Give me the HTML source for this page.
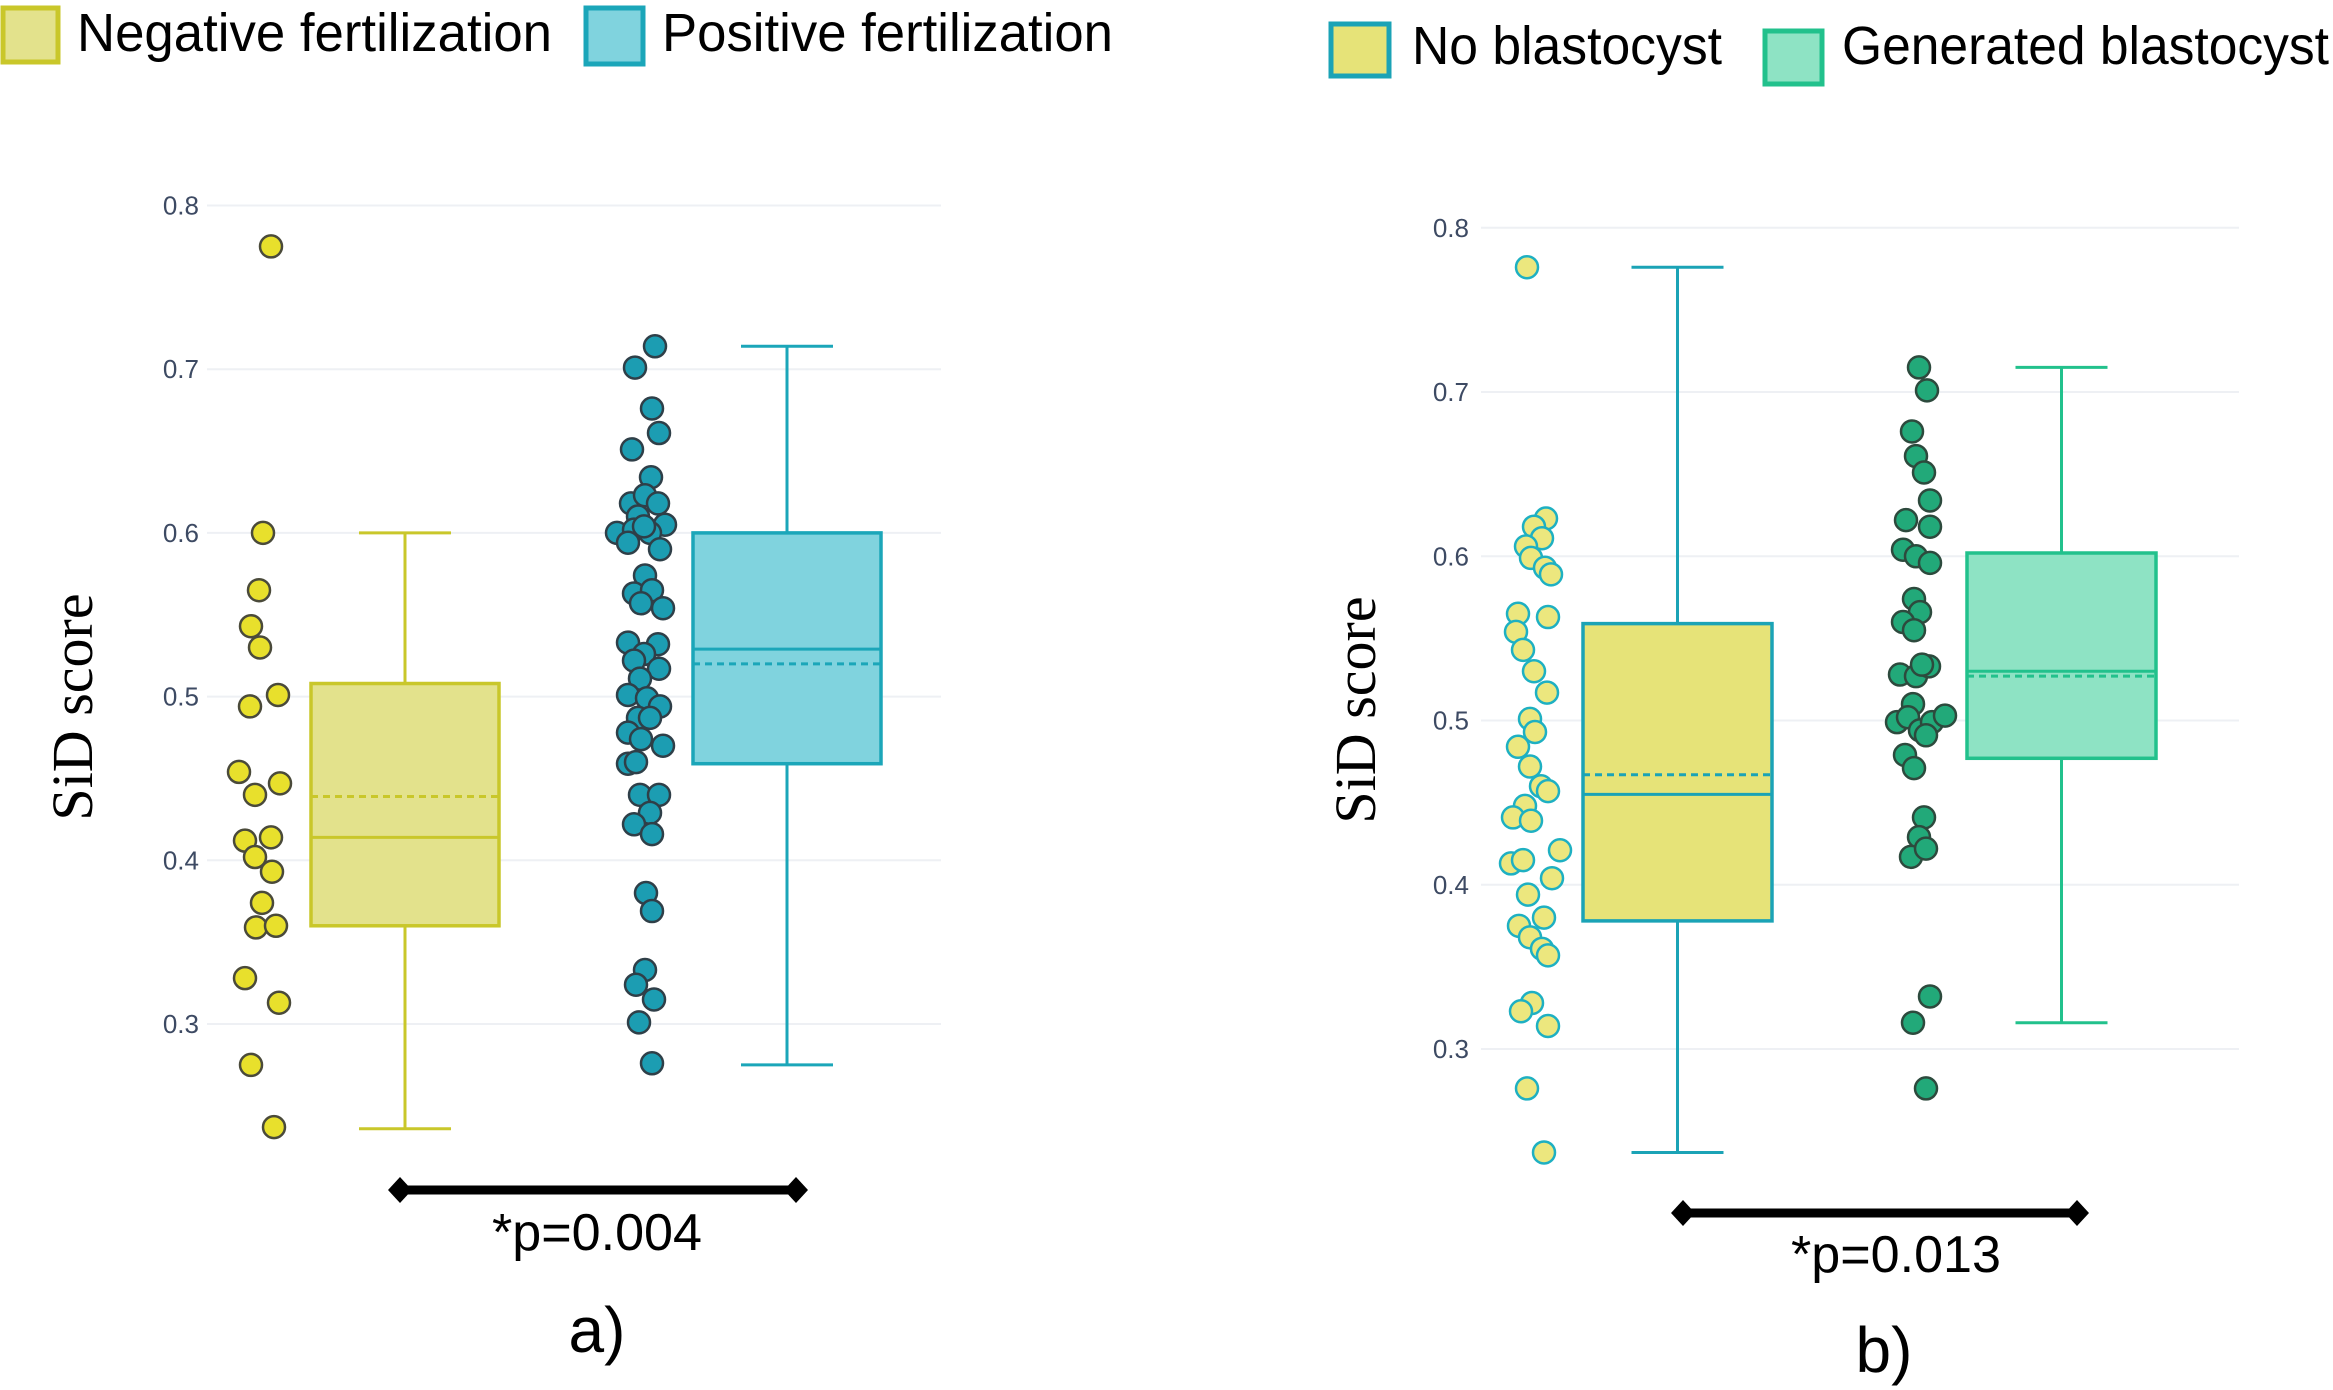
<!DOCTYPE html>
<html><head><meta charset="utf-8"><style>
html,body{margin:0;padding:0;background:#fff;}
svg{display:block;}
</style></head><body>
<svg id="fig" width="2333" height="1390" viewBox="0 0 2333 1390" xmlns="http://www.w3.org/2000/svg" font-family="'Liberation Sans', sans-serif">
  <g>
    <rect x="3" y="8" width="55" height="54" fill="#e3e28c" stroke="#c9c72a" stroke-width="5"/>
    <text x="77" y="51" font-size="54" textLength="475" lengthAdjust="spacingAndGlyphs" fill="#000">Negative fertilization</text>
    <rect x="586" y="8" width="57" height="56" fill="#80d3de" stroke="#1ba6b9" stroke-width="5"/>
    <text x="662" y="51" font-size="54" textLength="451" lengthAdjust="spacingAndGlyphs" fill="#000">Positive fertilization</text>
  </g>
  <g>
    <rect x="1331" y="24" width="58" height="52" fill="#e6e378" stroke="#1ba3b6" stroke-width="5"/>
    <text x="1412" y="64" font-size="54" textLength="310" lengthAdjust="spacingAndGlyphs" fill="#000">No blastocyst</text>
    <rect x="1765" y="31" width="57" height="53" fill="#8ee3c4" stroke="#22c18c" stroke-width="5"/>
    <text x="1842" y="64" font-size="54" textLength="487" lengthAdjust="spacingAndGlyphs" fill="#000">Generated blastocyst</text>
  </g>
  <g id="panelA"></g>
  <g id="panelB"></g>
</svg>
<script>
// ---------- data ----------
const yTicks = [0.3, 0.4, 0.5, 0.6, 0.7, 0.8];
const tickLabels = ["0.3", "0.4", "0.5", "0.6", "0.7", "0.8"];

// Panel A: negative vs positive fertilization
const negValues = [0.775,0.600,0.565,0.543,0.530,0.501,0.494,0.454,0.447,0.440,0.412,0.414,0.402,0.393,0.374,0.359,0.360,0.328,0.313,0.275,0.237];
const negJitter = [10,2,-2,-10,-1,17,-11,-22,19,-6,-16,10,-6,11,1,-5,15,-16,18,-10,13];
const negBox = [0.236, 0.360, 0.414, 0.508, 0.600]; // min q1 median q3 max
const negMean = 0.439;

const posValues = [0.714,0.701,0.676,0.661,0.651,0.634,0.618,0.623,0.618,0.610,0.605,0.600,0.602,0.600,0.594,0.590,0.604,0.574,0.563,0.565,0.554,0.557,0.533,0.532,0.526,0.522,0.517,0.511,0.501,0.499,0.494,0.487,0.487,0.478,0.474,0.470,0.459,0.460,0.440,0.440,0.429,0.422,0.416,0.380,0.369,0.333,0.324,0.315,0.301,0.276];
const posJitter = [11,-9,8,15,-12,7,-13,1,14,-6,21,-27,-10,6,-16,16,0,1,-10,8,19,-3,-16,14,0,-10,15,-4,-16,3,16,-6,6,-16,-3,19,-16,-8,-4,15,6,-10,8,2,8,1,-8,10,-5,8];
const posBox = [0.275, 0.459, 0.529, 0.600, 0.714];
const posMean = 0.520;

// Panel B: no blastocyst vs generated blastocyst
const noBlastValues = [0.776,0.623,0.618,0.611,0.606,0.599,0.593,0.589,0.565,0.563,0.554,0.543,0.530,0.517,0.501,0.493,0.484,0.472,0.460,0.457,0.448,0.441,0.439,0.421,0.413,0.415,0.404,0.394,0.380,0.375,0.368,0.361,0.357,0.328,0.323,0.314,0.276,0.237];
const noBlastJitter = [-4,15,3,11,-5,0,14,20,-13,17,-15,-8,3,16,-1,4,-13,-1,10,17,-6,-18,0,29,-20,-8,21,-3,13,-12,-1,11,17,1,-10,17,-4,13];
const noBlastBox = [0.237, 0.378, 0.455, 0.559, 0.776];
const noBlastMean = 0.467;

const genValues = [0.715,0.701,0.676,0.661,0.651,0.634,0.622,0.618,0.604,0.600,0.596,0.574,0.566,0.560,0.555,0.528,0.527,0.533,0.534,0.510,0.499,0.502,0.494,0.499,0.503,0.491,0.479,0.471,0.441,0.429,0.417,0.422,0.332,0.316,0.276];
const genJitter = [3,11,-4,0,8,14,-10,14,-13,0,14,-2,4,-13,-2,-16,0,13,6,-3,-19,-8,4,16,29,10,-11,-2,8,3,-5,10,14,-3,10];
const genBox = [0.316, 0.477, 0.530, 0.602, 0.715];
const genMean = 0.527;

// ---------- drawing ----------
const NS = "http://www.w3.org/2000/svg";
function mk(parent, tag, attrs) {
  const e = document.createElementNS(NS, tag);
  for (const k in attrs) e.setAttribute(k, attrs[k]);
  parent.appendChild(e);
  return e;
}
function makeY(y08, y03) { return v => y08 + (0.8 - v) / 0.5 * (y03 - y08); }

function drawPanel(g, cfg) {
  const y = makeY(cfg.y08, cfg.y03);
  yTicks.forEach((t, i) => {
    const gl = mk(g, "line", {x1: cfg.gx0, x2: cfg.gx1, y1: y(t), y2: y(t), stroke: "#eef0f4", "stroke-width": 2});
    
    
    const tl = mk(g, "text", {x: cfg.tickX, y: y(t) + 9, "text-anchor": "end", "font-size": 26, fill: "#3d4a63"});
    tl.textContent = tickLabels[i];
    
    
  });
  const at = mk(g, "text", {x: 0, y: 0, "font-size": 58, "font-family": "'Liberation Serif', serif", "text-anchor": "middle", fill: "#000", transform: `translate(${cfg.titleX},${cfg.titleY}) rotate(-90)`});
  at.textContent = "SiD score";
  
  

  cfg.groups.forEach(gr => {
    gr.values.forEach((v, i) => {
      const c = mk(g, "circle", {cx: gr.px + gr.jitter[i], cy: y(v), r: 11, fill: gr.ptFill, stroke: gr.ptStroke, "stroke-width": 2.5});
      
      
    });
    const [mn, q1, md, q3, mx] = gr.box;
    const cx = (gr.bx0 + gr.bx1) / 2, hw = 46;
    const w1 = mk(g, "line", {x1: cx, x2: cx, y1: y(mx), y2: y(q3), stroke: gr.stroke, "stroke-width": 3});
    
    
    const w2 = mk(g, "line", {x1: cx, x2: cx, y1: y(q1), y2: y(mn), stroke: gr.stroke, "stroke-width": 3});
    
    
    [mx, mn].forEach(v => {
      const cap = mk(g, "line", {x1: cx - hw, x2: cx + hw, y1: y(v), y2: y(v), stroke: gr.stroke, "stroke-width": 3});
      
      
    });
    const box = mk(g, "rect", {x: gr.bx0, y: y(q3), width: gr.bx1 - gr.bx0, height: y(q1) - y(q3), fill: gr.fill, stroke: gr.stroke, "stroke-width": 3.5});
    
    
    const med = mk(g, "line", {x1: gr.bx0, x2: gr.bx1, y1: y(md), y2: y(md), stroke: gr.stroke, "stroke-width": 3});
    
    
    const mean = mk(g, "line", {x1: gr.bx0, x2: gr.bx1, y1: y(gr.mean), y2: y(gr.mean), stroke: gr.stroke, "stroke-width": 3, "stroke-dasharray": "7,5"});
    
    
  });

  const b = cfg.bracket;
  const bl = mk(g, "line", {x1: b.x0, x2: b.x1, y1: b.y, y2: b.y, stroke: "#000", "stroke-width": 9});
  
  
  [b.x0, b.x1].forEach(x => {
    const d = mk(g, "polygon", {points: `${x-12},${b.y} ${x},${b.y-13} ${x+12},${b.y} ${x},${b.y+13}`, fill: "#000"});
    
    
  });
  const pt = mk(g, "text", {x: b.tx, y: b.ty, "text-anchor": "middle", "font-size": 52, textLength: 210, lengthAdjust: "spacingAndGlyphs", fill: "#000"});
  pt.textContent = b.text;
  
  
  const pl = mk(g, "text", {x: cfg.labelX, y: cfg.labelY, "text-anchor": "middle", "font-size": 64, fill: "#000"});
  pl.textContent = cfg.label;
  
  
}

drawPanel(document.getElementById("panelA"), {
  y08: 205.5, y03: 1024, gx0: 207, gx1: 941, tickX: 199, titleX: 92, titleY: 707,
  groups: [
    {values: negValues, jitter: negJitter, px: 261, box: negBox, mean: negMean, bx0: 311, bx1: 499,
     fill: "#e3e28c", stroke: "#c9c72a", ptFill: "#e8e02c", ptStroke: "#4a4a3a"},
    {values: posValues, jitter: posJitter, px: 644, box: posBox, mean: posMean, bx0: 693, bx1: 881,
     fill: "#80d3de", stroke: "#1ba6b9", ptFill: "#1c9db2", ptStroke: "#2f3f48"}
  ],
  bracket: {x0: 400, x1: 796, y: 1190, tx: 597, ty: 1250, text: "*p=0.004"},
  label: "a)", labelX: 597, labelY: 1352
});

drawPanel(document.getElementById("panelB"), {
  y08: 227.8, y03: 1049, gx0: 1481, gx1: 2239, tickX: 1469, titleX: 1375, titleY: 710,
  groups: [
    {values: noBlastValues, jitter: noBlastJitter, px: 1531, box: noBlastBox, mean: noBlastMean, bx0: 1583, bx1: 1772,
     fill: "#e6e378", stroke: "#1ba3b6", ptFill: "#ece77e", ptStroke: "#1eb0c2"},
    {values: genValues, jitter: genJitter, px: 1916, box: genBox, mean: genMean, bx0: 1967, bx1: 2156,
     fill: "#8ee3c4", stroke: "#22c18c", ptFill: "#22a979", ptStroke: "#2d4a3d"}
  ],
  bracket: {x0: 1683, x1: 2077, y: 1213, tx: 1896, ty: 1272, text: "*p=0.013"},
  label: "b)", labelX: 1884, labelY: 1372
});
</script>
</body></html>
